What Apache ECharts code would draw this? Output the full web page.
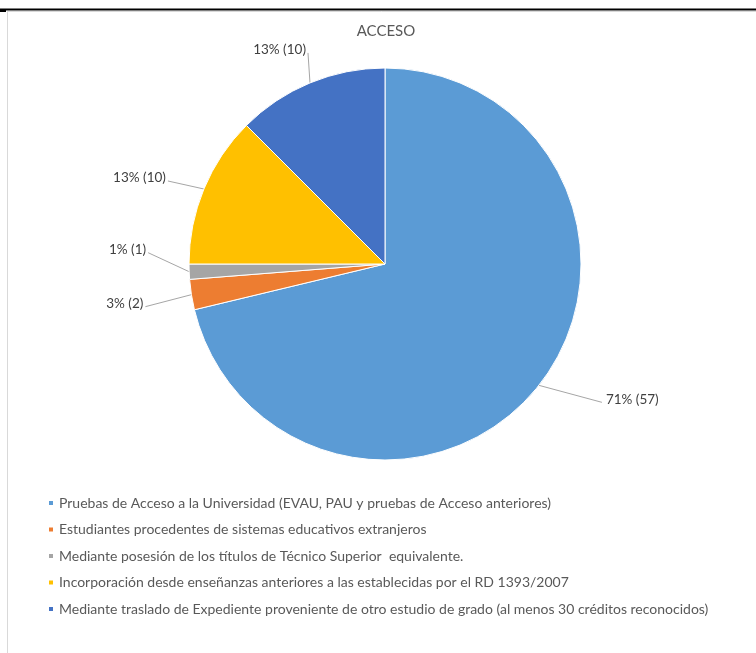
<!DOCTYPE html>
<html>
<head>
<meta charset="utf-8">
<script src="https://cdn.jsdelivr.net/npm/echarts@6/dist/echarts.min.js"></script>
<style>
html,body{margin:0;padding:0;background:#fff;}
#chart{width:756px;height:653px;}
</style>
</head>
<body>
<div id="chart"></div>
<script>
var title = 'ACCESO';
var categories = [
  'Pruebas de Acceso a la Universidad (EVAU, PAU y pruebas de Acceso anteriores)',
  'Estudiantes procedentes de sistemas educativos extranjeros',
  'Mediante posesión de los títulos de Técnico Superior  equivalente.',
  'Incorporación desde enseñanzas anteriores a las establecidas por el RD 1393/2007',
  'Mediante traslado de Expediente proveniente de otro estudio de grado (al menos 30 créditos reconocidos)'
];
var values = [57, 2, 1, 10, 10];
var colors = ['#5B9BD5', '#ED7D31', '#A5A5A5', '#FFC000', '#4472C4'];

var total = values.reduce(function (a, b) { return a + b; }, 0);
var FONT = 'Lato, "Open Sans", sans-serif';

// leader-line end offsets from the slice edge (label styling, per slice)
var leaderOffsets = [[63, 17], [-46, 12], [-41, -19], [-36, -8], [-2, -30]];

var chart = echarts.init(document.getElementById('chart'), null, {renderer: 'canvas'});
chart.setOption({
  backgroundColor: '#ffffff',
  animation: false,
  color: colors,
  title: {
    text: title,
    left: 381,
    textAlign: 'center',
    top: 19,
    textStyle: {fontFamily: FONT, fontSize: 15, fontWeight: 'normal', color: '#595959'}
  },
  legend: {
    orient: 'vertical',
    left: 42,
    top: 491,
    icon: 'rect',
    itemWidth: 6,
    itemHeight: 6,
    itemGap: 12.5,
    textStyle: {fontFamily: FONT, fontSize: 14, color: '#595959'},
    data: categories
  },
  graphic: [
    {type: 'line', shape: {x1: 0, y1: 9.5, x2: 756, y2: 9.5}, style: {stroke: '#000', lineWidth: 2}},
    {type: 'rect', shape: {x: 0, y: 9, width: 6, height: 3}, style: {fill: '#000'}},
    {type: 'line', shape: {x1: 7.5, y1: 11, x2: 7.5, y2: 653}, style: {stroke: '#d9d9d9', lineWidth: 1}},
    {type: 'line', shape: {x1: 7, y1: 11.5, x2: 756, y2: 11.5}, style: {stroke: '#d9d9d9', lineWidth: 1}}
  ],
  series: [{
    type: 'pie',
    center: [385, 264],
    radius: 196,
    startAngle: 90,
    clockwise: true,
    avoidLabelOverlap: false,
    itemStyle: {borderColor: '#ffffff', borderWidth: 1},
    label: {
      show: true,
      position: 'outside',
      fontFamily: FONT,
      fontSize: 13.5,
      color: '#404040',
      formatter: function (p) {
        return Math.round(p.value / total * 100) + '% (' + p.value + ')';
      }
    },
    labelLine: {
      show: true,
      length: 2,
      length2: 2,
      lineStyle: {color: '#a6a6a6', width: 1}
    },
    labelLayout: function (p) {
      var o = leaderOffsets[p.dataIndex];
      var e = p.labelLinePoints[0];
      var endX = e[0] + o[0], endY = e[1] + o[1];
      var r = p.labelRect;
      var x = o[0] < 0 ? endX - 2 - r.width : endX + 4;
      var y = endY - 3 - r.height / 2;
      return {x: x, y: y, align: 'left', verticalAlign: 'top', labelLinePoints: [[e[0], e[1]], [endX, endY]]};
    },
    data: categories.map(function (c, i) { return {name: c, value: values[i]}; })
  }]
});
</script>
</body>
</html>
